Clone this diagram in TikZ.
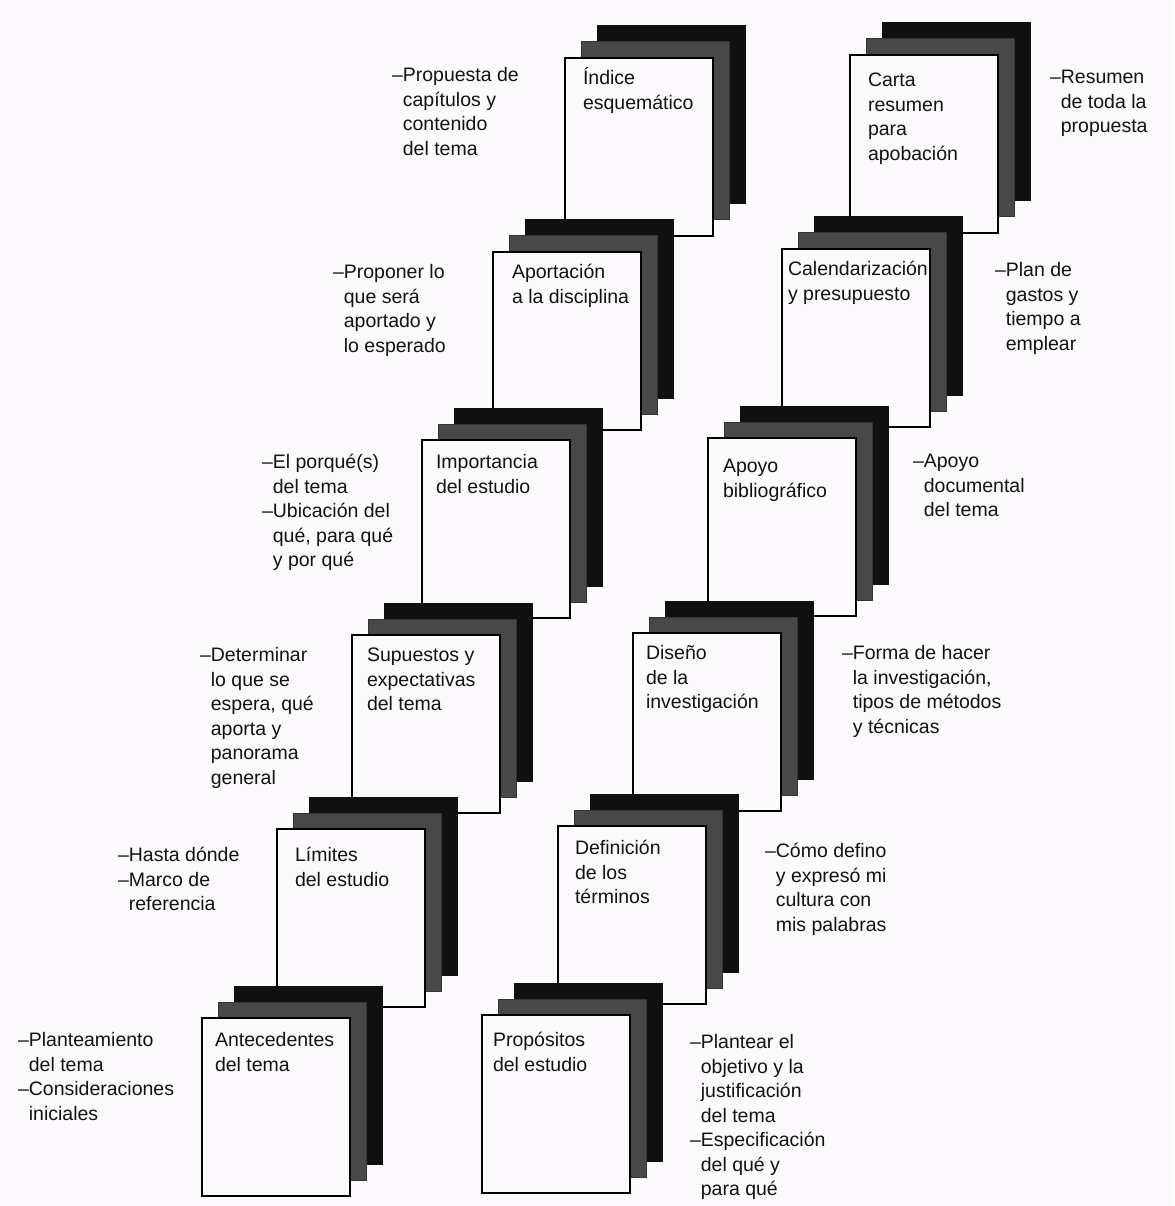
\documentclass[tikz,border=0pt]{standalone}
\usepackage{fontspec}
\setmainfont{Liberation Sans}
\definecolor{bg}{RGB}{253,250,253}
\definecolor{pgblack}{RGB}{16,16,16}
\definecolor{pggray}{RGB}{72,72,72}
\definecolor{ink}{RGB}{18,18,18}
\tikzset{
  pagebase/.style={anchor=north west, minimum width=148pt, minimum height=178pt, inner sep=0pt, outer sep=0pt},
  backpg/.style={pagebase, fill=pgblack, draw=pgblack, line width=1pt},
  midpg/.style={pagebase, fill=pggray, draw=pgblack!85, line width=1pt},
  frontpg/.style={pagebase, fill=bg, draw=black, line width=2.5pt},
  pgtext/.style={anchor=north west, inner sep=0pt, outer sep=0pt, align=left, text=ink, font=\fontsize{19.5}{24.5}\selectfont},
  note/.style={pgtext},
}
\newcommand{\ind}{\phantom{–}}
% #1 name, #2 left, #3 top, #4 text, #5 text dx, #6 text top offset
\newcommand{\docstack}[6]{%
  \node[backpg] (#1b) at (#2+32,#3-32) {};
  \node[midpg] (#1m) at (#2+16,#3-16) {};
  \node[frontpg] (#1) at (#2,#3) {};
  \node[pgtext] (#1t) at ([xshift=#5pt,yshift=-#6pt]#1.north west) {\strut #4};
}
\begin{document}
\begin{tikzpicture}[x=1pt,y=-1pt]
\fill[bg] (0,0) rectangle (1174,1206);
\useasboundingbox (0,0) rectangle (1174,1206);

% left column
\docstack{L1}{565}{58}{Índice\\esquemático}{18}{9.5}
\docstack{L2}{493}{252}{Aportación\\a la disciplina}{19}{9.5}
\docstack{L3}{422}{440}{Importancia\\del estudio}{14}{11.5}
\docstack{L4}{352}{635}{Supuestos y\\expectativas\\del tema}{15}{9.5}
\docstack{L5}{277}{829}{Límites\\del estudio}{18}{15.5}
\docstack{L6}{202}{1018}{Antecedentes\\del tema}{13}{11.5}

% right column
\docstack{R1}{850}{55}{Carta\\resumen\\para\\apobación}{18}{14.5}
\docstack{R2}{782}{249}{Calendarización\\y presupuesto}{6}{9.5}
\docstack{R3}{708}{438}{Apoyo\\bibliográfico}{15}{17.5}
\docstack{R4}{633}{633}{Diseño\\de la\\investigación}{13}{9.5}
\docstack{R5}{558}{826}{Definición\\de los\\términos}{17}{11.5}
\docstack{R6}{482}{1015}{Propósitos\\del estudio}{11}{14.5}

% notes left
\node[note] (nL1) at (392,64.5) {\strut –Propuesta de\\\ind capítulos y\\\ind contenido\\\ind del tema};
\node[note] (nL2) at (333,261.5) {\strut –Proponer lo\\\ind que será\\\ind aportado y\\\ind lo esperado};
\node[note] (nL3) at (262,451.5) {\strut –El porqué(s)\\\ind del tema\\–Ubicación del\\\ind qué, para qué\\\ind y por qué};
\node[note] (nL4) at (200,644.5) {\strut –Determinar\\\ind lo que se\\\ind espera, qué\\\ind aporta y\\\ind panorama\\\ind general};
\node[note] (nL5) at (118,844.5) {\strut –Hasta dónde\\–Marco de\\\ind referencia};
\node[note] (nL6) at (18,1029.5) {\strut –Planteamiento\\\ind del tema\\–Consideraciones\\\ind iniciales};

% notes right
\node[note] (nR1) at (1050,66.5) {\strut –Resumen\\\ind de toda la\\\ind propuesta};
\node[note] (nR2) at (995,259.5) {\strut –Plan de\\\ind gastos y\\\ind tiempo a\\\ind emplear};
\node[note] (nR3) at (913,450.5) {\strut –Apoyo\\\ind documental\\\ind del tema};
\node[note] (nR4) at (842,642.5) {\strut –Forma de hacer\\\ind la investigación,\\\ind tipos de métodos\\\ind y técnicas};
\node[note] (nR5) at (765,840.5) {\strut –Cómo defino\\\ind y expresó mi\\\ind cultura con\\\ind mis palabras};
\node[note] (nR6) at (690,1031.5) {\strut –Plantear el\\\ind objetivo y la\\\ind justificación\\\ind del tema\\–Especificación\\\ind del qué y\\\ind para qué};
\end{tikzpicture}
\end{document}
